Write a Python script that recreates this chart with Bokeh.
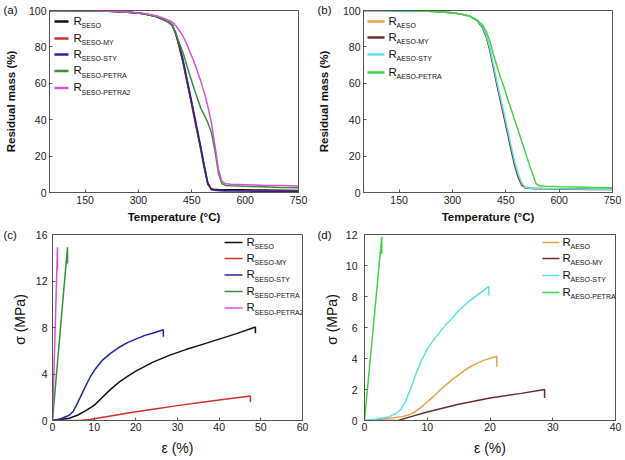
from bokeh.plotting import figure
from bokeh.models import Range1d, FixedTicker, Label, LinearAxis
from bokeh.layouts import column, row
from bokeh.embed import file_html
from bokeh.resources import INLINE

FONT = "Liberation Sans"

# ---------------- TGA data (panels a, b) ----------------
temperature = [50, 100, 150, 200, 250, 300, 325, 350, 370, 385, 395, 405, 415, 425, 435,
               445, 455, 465, 475, 485, 495, 505, 515, 525, 535, 545, 560, 600, 650, 700, 750]

r_seso = [100, 100, 99.9, 99.7, 99.3, 98.6, 97.8, 96.7, 95.0, 93.6, 92.0, 87.0, 79.8, 71.7, 62.2,
          52.7, 43.1, 33.5, 23.8, 13.5, 4.5, 2.0, 1.7, 1.6, 1.55, 1.5, 1.5, 1.45, 1.35, 1.25, 1.15]
r_seso_my = [100, 100, 99.9, 99.7, 99.3, 98.6, 97.8, 96.7, 95.0, 93.5, 91.8, 87.2, 80.6, 72.6, 63.2,
             53.7, 44.1, 34.6, 24.9, 14.8, 5.6, 1.6, 1.2, 1.1, 1.05, 1.0, 1.0, 0.95, 0.9, 0.85, 0.8]
r_seso_sty = [100, 100, 99.9, 99.7, 99.3, 98.6, 97.8, 96.7, 95.0, 93.6, 92.1, 87.6, 81.0, 73.2, 63.9,
              54.4, 44.8, 35.2, 25.4, 15.0, 5.2, 1.6, 1.2, 1.1, 1.0, 0.95, 0.9, 0.8, 0.7, 0.6, 0.5]
r_seso_petra = [100, 100, 99.9, 99.7, 99.3, 98.6, 97.8, 96.7, 95.0, 93.6, 92.0, 87.3, 82.0, 77.0, 70.5,
                64.0, 58.0, 52.0, 46.5, 42.5, 38.5, 33.0, 23.0, 10.5, 4.8, 3.9, 3.7, 3.4, 3.1, 2.8, 2.6]
r_seso_petra2 = [100, 100, 99.9, 99.7, 99.4, 98.8, 98.1, 97.1, 95.8, 94.7, 93.6, 91.6, 89.0, 86.0, 82.0,
                 77.0, 72.5, 67.0, 61.3, 55.0, 47.5, 38.5, 26.0, 12.5, 6.0, 4.8, 4.5, 4.3, 4.0, 3.8, 3.6]

r_aeso = [100, 100, 99.9, 99.8, 99.5, 98.8, 98.0, 96.8, 94.5, 90.8, 86.0, 79.0, 69.5, 60.0, 51.0,
          42.5, 33.5, 24.5, 16.0, 9.5, 5.0, 3.0, 2.5, 2.4, 2.3, 2.3, 2.2, 2.1, 2.0, 1.9, 1.8]
r_aeso_my = [100, 100, 99.9, 99.8, 99.5, 98.8, 98.0, 96.8, 94.4, 90.5, 85.5, 78.3, 68.7, 59.2, 50.2,
             41.5, 32.5, 23.3, 14.8, 8.3, 4.0, 2.5, 2.3, 2.2, 2.1, 2.1, 2.0, 1.9, 1.8, 1.7, 1.6]
r_aeso_sty = [100, 100, 99.9, 99.8, 99.5, 98.8, 98.0, 96.8, 94.5, 91.0, 86.4, 79.6, 70.3, 61.0, 52.0,
              43.5, 34.6, 25.5, 16.8, 10.0, 5.0, 2.7, 2.4, 2.3, 2.2, 2.2, 2.1, 2.0, 1.9, 1.85, 1.8]
r_aeso_petra = [100, 100, 99.9, 99.8, 99.5, 98.8, 98.0, 96.8, 94.5, 92.0, 88.5, 83.5, 76.0, 69.5, 63.5,
                57.8, 51.5, 45.7, 39.8, 34.0, 28.0, 22.0, 16.0, 10.3, 4.8, 3.7, 3.5, 3.2, 3.0, 2.8, 2.6]

# ---------------- Tensile data (panels c, d) ----------------
eps_seso = [0, 2, 4, 6, 8, 10, 12, 14, 16, 18, 20, 24, 28, 32, 36, 40, 44, 48.7, 48.7]
sig_seso = [0, 0.08, 0.2, 0.45, 0.85, 1.3, 2.0, 2.7, 3.3, 3.8, 4.25, 5.0, 5.6, 6.1, 6.55, 7.0, 7.45, 8.05, 7.5]
eps_seso_my = [0, 4, 7, 9, 10, 15, 20, 25, 30, 35, 40, 47.5, 47.5]
sig_seso_my = [0, 0, 0.02, 0.08, 0.15, 0.45, 0.75, 1.02, 1.28, 1.53, 1.77, 2.1, 1.6]
eps_seso_sty = [0, 2, 4, 5, 6, 7, 8, 9, 10, 12, 14, 16, 18, 20, 22, 24, 26.6, 26.6]
sig_seso_sty = [0, 0.15, 0.45, 0.8, 1.5, 2.25, 3.0, 3.7, 4.3, 5.2, 5.8, 6.3, 6.7, 7.0, 7.3, 7.5, 7.8, 7.2]
eps_seso_petra = [0, 1.8, 3.6, 3.6]
sig_seso_petra = [0, 7.5, 14.9, 13.5]
eps_seso_petra2 = [0, 0.6, 1.2, 1.2]
sig_seso_petra2 = [0, 7.4, 14.9, 13.0]

eps_aeso = [0, 2, 4, 6, 7, 8, 9, 10, 11, 12, 13, 14, 15, 16, 17, 18, 19, 20, 21.1, 21.1]
sig_aeso = [0, 0.07, 0.15, 0.25, 0.35, 0.55, 0.85, 1.2, 1.55, 1.95, 2.3, 2.65, 2.95, 3.25, 3.5, 3.7, 3.88, 4.02, 4.15, 3.45]
eps_aeso_my = [0, 3, 5.5, 7, 10, 15, 20, 25, 28.7, 28.7]
sig_aeso_my = [0, 0, 0.02, 0.2, 0.55, 1.05, 1.45, 1.75, 2.0, 1.45]
eps_aeso_sty = [0, 2, 4, 5, 5.8, 6.5, 7, 7.5, 8, 9, 10, 11, 12, 13, 14, 15, 16, 17, 18, 19, 19.8, 19.8]
sig_aeso_sty = [0, 0.1, 0.25, 0.45, 0.7, 1.2, 1.7, 2.2, 2.8, 3.8, 4.6, 5.2, 5.7, 6.2, 6.6, 7.1, 7.45, 7.8, 8.1, 8.4, 8.65, 8.07]
eps_aeso_petra = [0, 1.4, 2.75, 2.75]
sig_aeso_petra = [0, 6.0, 11.85, 10.75]

seso_subs = ["SESO", "SESO-MY", "SESO-STY", "SESO-PETRA", "SESO-PETRA2"]
seso_colors = ["#111111", "#d0302c", "#26269c", "#3a8f3a", "#d452d4"]
aeso_subs = ["AESO", "AESO-MY", "AESO-STY", "AESO-PETRA"]
aeso_colors = ["#e8a24c", "#6b2c2c", "#5ee3e3", "#45d345"]

tga_ticks_x = [150, 300, 450, 600, 750]
tga_ticks_y = [0, 20, 40, 60, 80, 100]

FRAME = "#555555"


def make_fig(w, h, bl, br, bt, bb, xr, yr, xticks, yticks):
    p = figure(width=w, height=h, x_range=Range1d(*xr), y_range=Range1d(*yr),
               output_backend="svg", toolbar_location=None, frame_align=False,
               min_border_left=bl, min_border_right=br, min_border_top=bt, min_border_bottom=bb)
    p.xgrid.visible = False
    p.ygrid.visible = False
    p.outline_line_color = FRAME
    p.background_fill_color = "white"
    p.border_fill_color = "white"
    for ax, ticks in ((p.below[0], xticks), (p.left[0], yticks)):
        ax.ticker = FixedTicker(ticks=ticks)
        ax.axis_line_color = FRAME
        ax.major_tick_in = 3
        ax.major_tick_out = 0
        ax.major_tick_line_color = FRAME
        ax.minor_tick_line_color = None
        ax.major_label_text_font = FONT
        ax.major_label_text_font_size = "10.5px"
        ax.major_label_text_color = "#222222"
        ax.axis_label_text_font = FONT
        ax.axis_label_text_color = "#111111"
    for place in ("above", "right"):
        ax = LinearAxis(ticker=FixedTicker(ticks=[]), axis_line_color=FRAME,
                        major_tick_line_color=None, minor_tick_line_color=None,
                        major_label_text_font_size="0px", major_label_standoff=0,
                        axis_label_standoff=0)
        p.add_layout(ax, place)
    return p


def make_strip(w, h):
    s = figure(width=w, height=h, x_range=Range1d(0, 1), y_range=Range1d(0, 1),
               x_axis_type=None, y_axis_type=None, output_backend="svg", toolbar_location=None,
               frame_align=False,
               min_border_left=0, min_border_right=0, min_border_top=0, min_border_bottom=0)
    s.outline_line_color = None
    s.background_fill_color = "white"
    s.border_fill_color = "white"
    return s


def add_text(p, x, y, text, size, bold=False, angle=0, align="left"):
    p.add_layout(Label(x=x, y=y, x_units="screen", y_units="screen", text=text,
                       text_font=FONT, text_font_size=size, text_baseline="middle",
                       text_align=align, text_color="#111111", angle=angle, angle_units="deg",
                       text_font_style="bold" if bold else "normal"))


def add_legend(p, fw, fh, xr, yr, subs, colors, lx0, lx1, ys, rx, lw):
    for sub, col, yo in zip(subs, colors, ys):
        yd = yr[1] - yo / fh * (yr[1] - yr[0])
        x0 = xr[0] + lx0 / fw * (xr[1] - xr[0])
        x1 = xr[0] + lx1 / fw * (xr[1] - xr[0])
        p.segment(x0=[x0], y0=[yd], x1=[x1], y1=[yd], line_color=col, line_width=lw)
        add_text(p, rx, fh - yo + 1, "R", "11.5px")
        add_text(p, rx + 8, fh - yo - 4, sub, "7px")


def style_tga(p, label_standoff_y):
    bx, ly = p.below[0], p.left[0]
    bx.axis_label = "Temperature (°C)"
    bx.axis_label_text_font_size = "11.5px"
    bx.axis_label_text_font_style = "bold"
    bx.major_label_standoff = 3
    bx.axis_label_standoff = 4
    ly.major_label_standoff = label_standoff_y


def style_tensile(p, label_standoff_y):
    bx, ly = p.below[0], p.left[0]
    bx.axis_label = "ε (%)"
    bx.axis_label_text_font_size = "14px"
    bx.axis_label_text_font_style = "normal"
    bx.major_label_standoff = 2
    bx.axis_label_standoff = 6
    ly.major_label_standoff = label_standoff_y


# ---------------- Panel (a) ----------------
sa = make_strip(20, 226)
add_text(sa, 3, 217, "(a)", "11.5px")
add_text(sa, 10, 125, "Residual mass (%)", "11.5px", bold=True, angle=90, align="center")
pa = make_fig(292, 226, 29, 14, 10, 34, (50, 750), (0, 100), tga_ticks_x, tga_ticks_y)
for ys, col in zip([r_seso, r_seso_my, r_seso_sty, r_seso_petra, r_seso_petra2], seso_colors):
    pa.line(temperature, ys, line_color=col, line_width=1.5)
style_tga(pa, 3)
add_legend(pa, 249, 182, (50, 750), (0, 100), seso_subs, seso_colors, 5, 19,
           [11, 28, 44, 60.5, 77.5], 24, 2.5)

# ---------------- Panel (b) ----------------
sb = make_strip(22, 226)
add_text(sb, 5, 217, "(b)", "11.5px")
add_text(sb, 11, 125, "Residual mass (%)", "11.5px", bold=True, angle=90, align="center")
pb = make_fig(291, 226, 29, 13, 10, 34, (50, 750), (0, 100), tga_ticks_x, tga_ticks_y)
for ys, col in zip([r_aeso, r_aeso_my, r_aeso_sty, r_aeso_petra], aeso_colors):
    pb.line(temperature, ys, line_color=col, line_width=1.5)
style_tga(pb, 3)
add_legend(pb, 249, 182, (50, 750), (0, 100), aeso_subs, aeso_colors, 4, 21,
           [11, 27, 44, 62], 25, 2.5)

# ---------------- Panel (c) ----------------
sc = make_strip(28, 234)
add_text(sc, 3, 226, "(c)", "11.5px")
add_text(sc, 19, 141, "σ (MPa)", "14px", angle=90, align="center")
pc = make_fig(284, 234, 24, 10, 8, 40, (0, 60), (0, 16),
              [0, 10, 20, 30, 40, 50, 60], [0, 4, 8, 12, 16])
for ex, sy, col in zip([eps_seso, eps_seso_my, eps_seso_sty, eps_seso_petra, eps_seso_petra2],
                       [sig_seso, sig_seso_my, sig_seso_sty, sig_seso_petra, sig_seso_petra2],
                       seso_colors):
    pc.line(ex, sy, line_color=col, line_width=1.5)
style_tensile(pc, 5)
add_legend(pc, 250, 186, (0, 60), (0, 16), seso_subs, seso_colors, 172, 190,
           [8, 24, 40.5, 57, 73.5], 194, 1.6)

# ---------------- Panel (d) ----------------
sd = make_strip(28, 234)
add_text(sd, 5, 226, "(d)", "11.5px")
add_text(sd, 19, 141, "σ (MPa)", "14px", angle=90, align="center")
pd_ = make_fig(285, 234, 24, 10, 8, 40, (0, 40), (0, 12),
               [0, 10, 20, 30, 40], [0, 2, 4, 6, 8, 10, 12])
for ex, sy, col in zip([eps_aeso, eps_aeso_my, eps_aeso_sty, eps_aeso_petra],
                       [sig_aeso, sig_aeso_my, sig_aeso_sty, sig_aeso_petra],
                       aeso_colors):
    pd_.line(ex, sy, line_color=col, line_width=1.5)
style_tensile(pd_, 7)
add_legend(pd_, 251, 186, (0, 40), (0, 12), aeso_subs, aeso_colors, 178, 195,
           [8, 24, 41, 58], 198, 1.6)

layout = column(row(sa, pa, sb, pb), row(sc, pc, sd, pd_))
open("out.html", "w").write(file_html(layout, INLINE))
